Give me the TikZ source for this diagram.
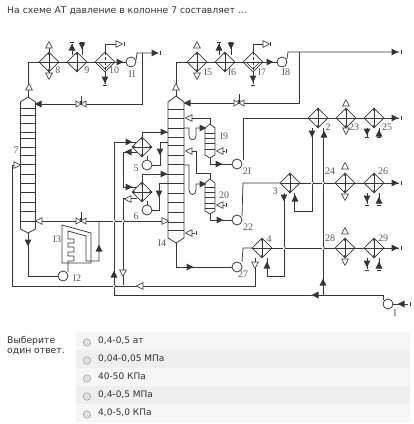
\documentclass[tikz,border=0pt]{standalone}
\usepackage{fontspec}
\setmainfont{DejaVu Sans}
\newfontfamily\lblfont{Liberation Serif}
\usetikzlibrary{shapes.geometric,arrows.meta,calc}
\definecolor{ink}{HTML}{363636}
\definecolor{lbl}{HTML}{5A5A5A}
\definecolor{rowa}{HTML}{F6F6F6}
\definecolor{rowb}{HTML}{EEEEEE}
\tikzset{
  ln/.style={draw=ink,line width=.75pt},
  thin ln/.style={draw=ink,line width=.55pt},
  dbl/.style={draw=ink,line width=.6pt,{Latex[length=3pt,width=2.6pt]}-{Latex[length=3pt,width=2.6pt]}},
  exbox/.style={diamond,aspect=1,draw=ink,line width=.75pt,minimum width=20pt,minimum height=20pt,inner sep=0pt,fill=white},
  pumpbox/.style={circle,draw=ink,line width=.75pt,minimum size=10pt,inner sep=0pt,fill=white},
  lab/.style={font=\lblfont\fontsize{10}{10}\selectfont,text=lbl,inner sep=0pt},
  txt/.style={font=\fontsize{9.25}{11}\selectfont,text=black!80,inner sep=0pt,anchor=west},
  ans/.style={font=\fontsize{9}{11}\selectfont,text=black!80,inner sep=0pt,anchor=west},
}
\newcommand{\fa}[3]{\fill[ink,shift={(#1,#2)},rotate=#3] (3.5,0)--(-3.5,3.4)--(-3.5,-3.4)--cycle;}
\newcommand{\oa}[3]{\filldraw[draw=ink,fill=white,line width=.6pt,shift={(#1,#2)},rotate=#3] (3.5,0)--(-3,3.4)--(-3,-3.4)--cycle;}
\newcommand{\tkv}[2]{\draw[thin ln] (#1,#2-2.2)--(#1,#2+2.2);}
\newcommand{\tkh}[2]{\draw[thin ln] (#1-2.2,#2)--(#1+2.2,#2);}
\newcommand{\exch}[3]{\node[exbox] (ex#1) at (#2,#3) {};
  \draw[dbl] (ex#1.north)--(ex#1.south);
  \draw[thin ln] (ex#1.west)--(ex#1.east);}
\newcommand{\exchx}[3]{\exch{#1}{#2}{#3}
  \draw[dbl] (ex#1.west)--(ex#1.east);}
\newcommand{\exchd}[3]{\node[exbox] (ex#1) at (#2,#3) {};
  \draw[thin ln,densely dashed] (ex#1.north)--(ex#1.south);
  \draw[thin ln] (ex#1.west)--(ex#1.east);
  \draw[thin ln] (#2-6,#3+1)--(#2,#3+7)--(#2+6,#3+1);}
\newcommand{\pump}[3]{\node[pumpbox] (p#1) at (#2,#3) {};}
\newcommand{\colm}[8]{
  \filldraw[ln,fill=white] (#2-#3,#5)--(#2,#4)--(#2+#3,#5)--(#2+#3,#6)--(#2,#7)--(#2-#3,#6)--cycle;
  \coordinate (#1t) at (#2,#4); \coordinate (#1b) at (#2,#7);
  \foreach \yy in {#8} {\draw[thin ln] (#2-#3,\yy)--(#2+#3,\yy);}
}
\newcommand{\valve}[3]{
  \filldraw[draw=ink,fill=white,line width=.6pt] (#1-5,#2-3)--(#1+5,#2+3)--(#1+5,#2-3)--(#1-5,#2+3)--cycle;
  \draw[thin ln] (#1,#2)--(#1,#2-#3);
  \fill[ink] (#1-1.5,#2-3)--(#1+1.5,#2-3)--(#1,#2)--cycle;}
\newcommand{\jmp}[2]{\fill[white] (#1-1,#2-2.2) rectangle (#1+1,#2+2.2);
  \draw[thin ln] (#1,#2-2.2) .. controls (#1+2,#2-1.5) and (#1+2,#2+1.5) .. (#1,#2+2.2);}
\begin{document}
\begin{tikzpicture}[x=1pt,y=-1pt]
\useasboundingbox (0,0) rectangle (414,424);
\fill[white] (0,0) rectangle (414,424);
\node[txt] (title) at (7,10.5) {На схеме АТ давление в колонне 7 составляет ...};

\draw[ln] (28,100)--(28,62)--(39,62);
\draw[ln] (59,62)--(67,62) (87,62)--(95,62) (115,62)--(126,62);
\draw[ln] (136,60)--(137,53)--(158,53);
\draw[ln] (142,53)--(142,104)--(36,104);
\draw[ln] (49,52)--(49,44) (49,72)--(49,76);
\draw[ln] (72,55)--(72,44) (82,55)--(82,44);
\tkh{72}{42}\tkh{82}{42}
\draw[ln] (105,52)--(105,44)--(122,44);\tkv{124}{44}
\draw[ln] (105,72)--(105,84);\tkh{105}{85}
\draw[ln] (176,100)--(176,62)--(187,62);
\draw[ln] (207,62)--(215,62) (235,62)--(243,62) (263,62)--(277,62);
\draw[ln] (287,59)--(288,52)--(399,52);\tkv{401}{52}
\draw[ln] (299,52)--(299,103)--(184,103);
\draw[ln] (219,55)--(219,43) (231,55)--(231,43);
\tkh{219}{42}\tkh{231}{42}
\draw[ln] (253,52)--(253,44)--(268,44);\tkv{270}{44}
\draw[ln] (253,72)--(253,84);\tkh{253}{85}
\tkv{160}{53}
\draw[ln] (186,118)--(210,118)--(210,125);
\draw[ln] (184,128)--(189,128)--(189,136) .. controls (189,141) and (196,141) .. (196,136)--(196,128)--(205,128);
\draw[ln] (217,151)--(225,151);\tkv{226}{151}
\draw[ln] (210,158)--(210,164)--(232,164);
\draw[ln] (243,160)--(243,118)--(308,118);
\draw[ln] (186,151)--(196,151)--(196,173)--(210,173)--(210,179);
\draw[ln] (184,165)--(189,165)--(189,190) .. controls (189,196) and (196,196) .. (196,190)--(196,184)--(205,184);
\draw[ln] (217,205)--(225,205);\tkv{226}{205}
\draw[ln] (210,214)--(210,220)--(232,220);
\draw[ln] (242,216)--(243,183)--(280,183);
\draw[ln] (186,233)--(195,233);\tkv{196}{233}
\draw[ln] (176,243)--(176,267)--(232,267);
\draw[ln] (242,262)--(243,248)--(252,248);
\draw[ln] (114,295)--(114,142)--(137,142);
\draw[ln] (123,187)--(123,152)--(137,152);
\draw[ln] (123,187)--(137,187);
\draw[ln] (123,285)--(123,198)--(137,198);
\draw[ln] (142,137)--(142,132)--(168,132);
\draw[ln] (168,142)--(160,142)--(160,165)--(152,165);
\draw[ln] (142,182)--(142,174)--(168,174);
\draw[ln] (168,183)--(159,183)--(159,210)--(152,210);
\draw[ln] (147,160)--(147,156) (147,205)--(147,201);
\draw[ln] (36,221)--(168,221);
\draw[ln] (12,286)--(255,286)--(255,258);
\draw[ln] (12,286)--(12,165)--(20,165);
\draw[ln] (114,295)--(383,295)--(383,300);
\draw[ln] (393,304)--(408,304);\tkv{410}{304}
\draw[ln] (323,295)--(323,128);
\draw[ln] (312,128)--(312,211)--(294,211)--(294,193);
\draw[ln] (284,193)--(284,276)--(267,276)--(267,258);
\draw[ln] (300,183)--(335,183) (355,183)--(364,183) (384,183)--(399,183);\tkv{401}{183}
\draw[ln] (272,248)--(335,248) (355,248)--(364,248) (384,248)--(399,248);\tkv{401}{248}
\draw[ln] (328,118)--(336,118) (356,118)--(364,118) (384,118)--(399,118);\tkv{401}{118}
\draw[ln] (99,221)--(99,261)--(86,261)--(86,236)--(68,231)--(68,239)--(74,239)--(74,243)--(68,243)--(68,247)--(74,247)--(74,252)--(68,252)--(68,256)--(74,256)--(74,261)--(68,261)--(68,272);
\draw[ln] (62,225)--(91,233)--(91,263)--(62,263)--cycle;
\draw[ln] (28,233)--(28,276)--(58,276);

\colm{c7}{28}{7.5}{97}{102}{229}{233}{108,115,123,132,138,147,155,164,174,183,192,202,211,221}
\colm{c14}{176}{8}{96}{102}{238}{243}{109,118,128,137,145,155,164,174,183,193,202,212,222,230}
\colm{c19}{210}{5}{124}{128}{155}{158}{133,138,143,149}
\colm{c20}{210}{5}{179}{183}{211}{214}{187,192,197,203,208}

\exch{8}{49}{62}\exch{9}{77}{62}\exchd{10}{105}{62}
\exch{15}{197}{62}\exch{16}{225}{62}\exchd{17}{253}{62}
\exch{2}{318}{118}\exch{23}{346}{118}\exch{25}{374}{118}
\exch{3}{290}{183}\exch{24}{345}{183}\exch{26}{374}{183}
\exch{4}{262}{248}\exch{28}{345}{248}\exch{29}{374}{248}
\exchx{5}{142}{147}\exchx{6}{142}{192}
\pump{11}{131}{62}\pump{18}{282}{62}\pump{21}{237}{164}\pump{22}{237}{220}
\pump{27}{237}{267}\pump{1}{388}{304}\pump{12}{63}{276}\pump{5}{147}{165}\pump{6}{147}{210}

\valve{81}{104}{8}\valve{239}{103}{9}\valve{81}{221}{9}

\draw[ln] (367,128)--(367,137) (379,128)--(379,137);\tkh{367}{137}\tkh{379}{137}
\draw[ln] (367,193)--(367,204) (379,193)--(379,204);\tkh{367}{205}\tkh{379}{205}
\draw[ln] (367,258)--(367,269) (379,258)--(379,269);\tkh{367}{270}\tkh{379}{270}

\jmp{114}{221}\jmp{123}{221}\jmp{114}{286}
\jmp{312}{183}\jmp{323}{183}\jmp{284}{248}\jmp{323}{248}

\oa{29}{87}{90}\oa{176}{87}{90}
\oa{49}{45}{90}\oa{49}{76}{270}\fa{72}{47}{90}\fa{82}{46}{270}
\oa{119}{44}{0}\fa{105}{80}{270}\fa{120}{62}{0}\fa{155}{53}{0}\fa{38}{104}{180}\oa{39}{221}{180}
\oa{197}{45}{90}\oa{197}{76}{270}\fa{219}{47}{90}\fa{231}{46}{270}
\oa{266}{44}{0}\fa{253}{79}{270}\fa{270}{62}{0}\fa{395}{52}{0}\fa{187}{103}{180}
\oa{189}{118}{180}\oa{189}{151}{180}\oa{189}{233}{180}
\fa{203}{128}{0}\fa{203}{184}{0}
\oa{220}{151}{180}\oa{220}{205}{180}
\fa{219}{164}{0}\fa{220}{220}{0}\fa{190}{267}{0}
\fa{164}{132}{0}\fa{164}{174}{0}\fa{160}{152}{270}\fa{159}{194}{270}
\fa{129}{142}{0}\fa{129}{187}{0}\fa{128}{152}{180}\oa{128}{199}{180}
\oa{165}{221}{0}\oa{140}{286}{180}\oa{17}{165}{0}
\fa{28}{243}{270}\fa{99}{248}{90}\fa{114}{274}{90}\oa{123}{273}{270}
\fa{315}{295}{180}\fa{323}{282}{90}\fa{401}{304}{180}
\fa{312}{134}{270}\fa{324}{134}{90}\fa{284}{198}{270}\fa{295}{198}{90}
\oa{255}{265}{270}\fa{267}{265}{90}
\oa{346}{103}{90}\oa{346}{131}{270}\oa{345}{166}{90}\oa{345}{197}{270}\oa{345}{231}{90}\oa{345}{262}{270}
\fa{367}{132}{270}\fa{379}{133}{90}\fa{367}{199}{270}\fa{379}{200}{90}\fa{367}{264}{270}\fa{379}{265}{90}
\fa{395}{118}{0}\fa{395}{183}{0}\fa{395}{248}{0}

\foreach \nm/\xx/\yy/\tx in {a/16/150/7,b/58/70/8,c/87/70/9,d/114/70/10,e/132/74/II,f/208/72/I5,g/232/72/I6,h/262/72/I7,i/286/72/I8,
  j/224/136/I9,k/224/195/20,l/247/171/2I,m/248/227/22,n/243/274/27,o/269/239/4,p/275/191/3,q/328/127/2,r/354/127/23,s/387/127/25,
  t/330/171/24,u/383/171/26,v/330/238/28,w/383/238/29,y/395/313/I,z/162/243/I4,aa/57/239/I3,ab/77/278/I2,ac/136/168/5,ad/136/216/6}
  {\node[lab] (lb\nm) at (\xx,\yy) {\tx};}

\fill[rowa] (76,332) rectangle (410,350);
\fill[rowb] (76,350) rectangle (410,368);
\fill[rowa] (76,368) rectangle (410,386);
\fill[rowb] (76,386) rectangle (410,404);
\fill[rowa] (76,404) rectangle (410,422);
\node[txt] (q1) at (7,340.5) {Выберите};
\node[txt] (q2) at (7,351.5) {один ответ.};
\foreach \nm/\yy/\tx in {r1/341/{0,4-0,5 ат},r2/359/{0,04-0,05 МПа},r3/377/{40-50 КПа},r4/395/{0,4-0,5 МПа},r5/413/{4,0-5,0 КПа}}{
  \node[ans] (\nm) at (98,\yy-0.5) {\tx};
  \node[circle,draw=black!35,fill=black!12,line width=.6pt,minimum size=7.5pt,inner sep=0pt] (b\nm) at (87,\yy+1.5) {};
}
\end{tikzpicture}
\end{document}
